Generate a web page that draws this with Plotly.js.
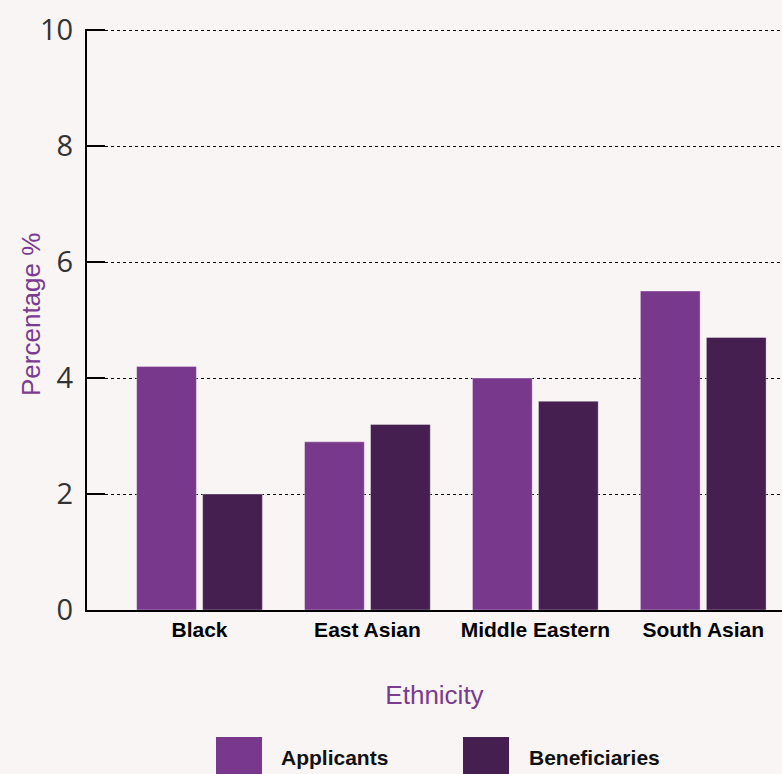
<!DOCTYPE html>
<html>
<head>
<meta charset="utf-8">
<script src="https://cdn.plot.ly/plotly-3.0.1.min.js"></script>
<style>
html,body{margin:0;padding:0;background:#f8f5f4;}
#chart{width:782px;height:774px;}
</style>
</head>
<body>
<div id="chart"></div>
<script>
const categories = ["Black", "East Asian", "Middle Eastern", "South Asian"];
const seriesNames = ["Applicants", "Beneficiaries"];
const applicants = [4.2, 2.9, 4.0, 5.5];
const beneficiaries = [2.0, 3.2, 3.6, 4.7];
const yTicks = [0, 2, 4, 6, 8, 10];
const colors = ["#78388b", "#441f50"];
const yTitle = "Percentage %";
const xTitle = "Ethnicity";

const traces = [applicants, beneficiaries].map((vals, i) => ({
  type: "bar",
  name: seriesNames[i],
  x: categories,
  y: vals,
  marker: {color: colors[i], line: {color: "rgba(255,255,255,0.35)", width: 1}},
  hoverinfo: "x+y",
  showlegend: false
}));

// plot area geometry (pixels) for custom legend
const L = 87, R = 0, T = 29, B = 164, W = 782, H = 774;
const pw = W - L - R, ph = H - T - B;
const px = x => (x - L) / pw;
const py = y => (H - B - y) / ph;

const legendItems = [
  {sq: 216, tx: 279},
  {sq: 463, tx: 527}
];
const shapes = legendItems.map((it, i) => ({
  type: "rect", xref: "paper", yref: "paper",
  x0: px(it.sq), x1: px(it.sq + 46), y0: py(737), y1: py(790),
  fillcolor: colors[i], line: {width: 0}
}));
const annotations = legendItems.map((it, i) => ({
  xref: "paper", yref: "paper", x: px(it.tx), y: py(757),
  xanchor: "left", yanchor: "middle", showarrow: false,
  text: seriesNames[i],
  font: {family: "Liberation Sans, Arial, sans-serif", size: 21, weight: "bold", color: "#111"}
}));
annotations.push({
  xref: "paper", yref: "paper", x: px(31), y: py(315),
  xanchor: "center", yanchor: "middle", showarrow: false, textangle: -90,
  text: yTitle,
  font: {family: "Liberation Sans, Arial, sans-serif", size: 26, color: "#7a3b91"}
});

const layout = {
  width: W, height: H,
  margin: {l: L, r: R, t: T, b: B},
  paper_bgcolor: "#f8f5f4",
  plot_bgcolor: "#f8f5f4",
  barmode: "group",
  bargap: 0.214,
  bargroupgap: 0.095,
  xaxis: {
    range: [-0.67, 3.469],
    showline: true, linecolor: "#000", linewidth: 2,
    ticks: "", showgrid: false, zeroline: false,
    tickfont: {family: "Liberation Sans, Arial, sans-serif", size: 21, weight: "bold", color: "#000"},
    title: {text: xTitle, standoff: 46,
      font: {family: "Liberation Sans, Arial, sans-serif", size: 26, color: "#7a3b91"}},
    fixedrange: true
  },
  yaxis: {
    range: [0, 10.02],
    tickvals: yTicks,
    ticktext: yTicks.map(String),
    showline: true, linecolor: "#000", linewidth: 2,
    ticks: "inside", ticklen: 18, tickwidth: 2, tickcolor: "#000",
    showgrid: true, gridcolor: "#000", gridwidth: 1, griddash: "dot",
    zeroline: false,
    ticklabelstandoff: 6,
    tickfont: {family: "Open Sans, sans-serif", size: 29, color: "#333"},
    fixedrange: true
  },
  shapes: shapes,
  annotations: annotations
};

Plotly.newPlot("chart", traces, layout, {displayModeBar: false});
</script>
</body>
</html>
